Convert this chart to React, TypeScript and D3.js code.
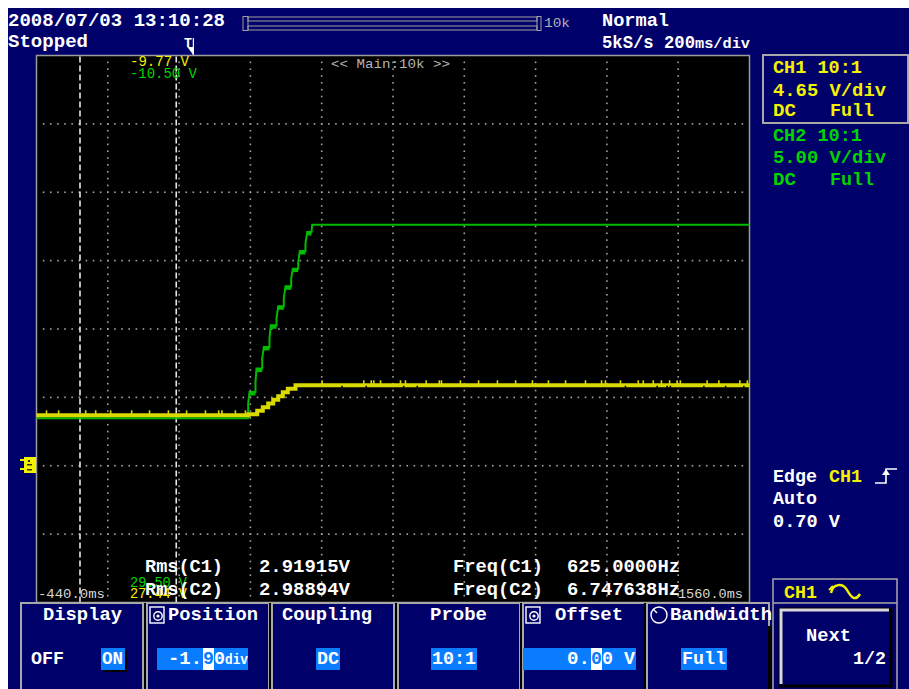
import React from "react";
import * as d3 from "d3";

const W = 909;
const H = 689;
const FONT = "'Liberation Mono', 'DejaVu Sans Mono', monospace";

// Colours of the scope display
const BG = "#00006b";
const GRID = "#a4a4a4";
const FRAME = "#a8a8a8";
const CH1_TRACE = "#d9d900";
const CH1_TEXT = "#f2f200";
const CH2_TRACE = "#00bb00";
const CH2_TEXT = "#00d400";
const HILITE = "#0a7cff";

// Horizontal: 10 divisions of 200 ms, trigger at 0 ms
const timeStart = -440;
const timePerDiv = 200;
const hDivs = 10;
const vDivs = 8;

// CH1 (yellow) staircase: level held from each time until the next (divisions)
const ch1StepTimes = [-440, 154.7, 179.1, 194.8, 209.9, 224.0, 238.0, 250.9, 264.9, 286.5, 1560];
const ch1StepLevels = [-1.262, -1.247, -1.196, -1.145, -1.091, -1.035, -0.984, -0.925, -0.874, -0.823, -0.823];

// CH1 single-sample glitches on the flat parts (ms)
const ch1SpikeUpTimes = [
  -412, -378, -302, -274, -232, -173, -123, -70, -19, 34, 71, 80, 118, 146,
  361, 478, 499, 506, 525, 581, 595, 653, 690, 696, 749, 800, 853, 904, 951, 996,
  1044, 1100, 1145, 1156, 1198, 1248, 1262, 1290, 1313, 1336, 1357, 1366, 1441,
  1474, 1533, 1554,
];
const ch1SpikeDownTimes = [417, 485, 590, 628, 1212, 1301, 1329, 1338, 1432, 1493, 1544];

// CH2 (green) trace vertices (ms, divisions)
const ch2Times = [
  -440, 153.8, 153.8, 157.5, 174.3, 174.3, 177.1, 193.1, 193.1, 197.6, 213.6,
  213.6, 217.2, 233.2, 233.2, 238.0, 253.7, 253.7, 258.4, 274.4, 274.4, 278.9,
  294.1, 294.1, 298.6, 314.5, 314.5, 319.3, 331.4, 333.3, 1560,
];
const ch2Levels = [
  -1.305, -1.305, -1.091, -0.921, -0.921, -0.775, -0.579, -0.579, -0.428, -0.263,
  -0.263, -0.136, 0.054, 0.054, 0.152, 0.332, 0.332, 0.444, 0.624, 0.624, 0.737,
  0.883, 0.883, 0.980, 1.140, 1.140, 1.249, 1.418, 1.418, 1.526, 1.526,
];

// Vertical cursors (ms)
const cursorTimes = [-318, -48];

// Measurement readouts
const measureNames = ["Rms(C1)", "Rms(C2)"];
const measureValues = ["2.91915V", "2.98894V"];
const freqNames = ["Freq(C1)", "Freq(C2)"];
const freqValues = ["625.0000Hz", "6.747638Hz"];

// Soft-key menu
const menuTitles = ["Display", "Position", "Coupling", "Probe", "Offset", "Bandwidth"];

const PLOT = { left: 36.5, right: 749.5, top: 55.5, bottom: 602.5 };

type TxtProps = {
  x: number;
  y: number;
  children: React.ReactNode;
  fill?: string;
  size?: number;
  w?: number;
  bold?: boolean;
};

function Txt({ x, y, children, fill = "#ffffff", size = 19, w, bold = true }: TxtProps) {
  return (
    <text
      x={x}
      y={y}
      fill={fill}
      fontFamily={FONT}
      fontSize={size}
      fontWeight={bold ? "bold" : "normal"}
      textLength={w}
      lengthAdjust={w ? "spacingAndGlyphs" : undefined}
    >
      {children}
    </text>
  );
}

export default function App() {
  const x = d3
    .scaleLinear()
    .domain([timeStart, timeStart + timePerDiv * hDivs])
    .range([PLOT.left, PLOT.right]);
  const y = d3.scaleLinear().domain([-vDivs / 2, vDivs / 2]).range([PLOT.bottom, PLOT.top]);

  // dotted graticule: a dot every tenth of a division along each grid line
  const dots: React.ReactNode[] = [];
  d3.range(1, hDivs).forEach((i) => {
    const gx = x(timeStart + i * timePerDiv);
    d3.range(1, vDivs * 10).forEach((k) => {
      dots.push(
        <rect key={`v${i}-${k}`} x={gx - 0.8} y={y(-vDivs / 2 + k / 10) - 0.8} width={1.6} height={1.6} fill={GRID} />
      );
    });
  });
  d3.range(1, vDivs).forEach((j) => {
    const gy = y(-vDivs / 2 + j);
    d3.range(1, hDivs * 10).forEach((k) => {
      dots.push(
        <rect key={`h${j}-${k}`} x={x(timeStart + (k * timePerDiv) / 10) - 0.8} y={gy - 0.8} width={1.6} height={1.6} fill={GRID} />
      );
    });
  });

  const ch1Line = d3
    .line<number>()
    .x((_, i) => x(ch1StepTimes[i]))
    .y((_, i) => y(ch1StepLevels[i]))
    .curve(d3.curveStepAfter);
  const ch2Line = d3
    .line<number>()
    .x((_, i) => x(ch2Times[i]))
    .y((_, i) => y(ch2Levels[i]));

  // plateaus of the CH2 ramp are drawn heavier
  const ch2Plateaus: [number, number, number][] = [];
  for (let i = 1; i < ch2Times.length; i++) {
    if (ch2Levels[i] === ch2Levels[i - 1] && ch2Times[i - 1] > 150 && ch2Times[i] < 340) {
      ch2Plateaus.push([ch2Times[i - 1], ch2Times[i], ch2Levels[i]]);
    }
  }

  const ch1LevelAt = (t: number) => {
    const idx = d3.bisectRight(ch1StepTimes, t) - 1;
    return ch1StepLevels[Math.max(0, Math.min(idx, ch1StepLevels.length - 1))];
  };

  const menuXs = [21, 147, 272, 398, 523, 647];
  const menuTitleX = [43, 168, 282, 430, 555, 670];
  const menuTitleW = [79, 90, 90, 57, 68, 102];

  return (
    <div style={{ position: "fixed", left: 0, top: 0 }}>
      <svg width={W} height={H} viewBox={`0 0 ${W} ${H}`} style={{ display: "block" }}>
        <rect x={0} y={0} width={W} height={H} fill="#ffffff" />
        <rect x={8} y={8} width={W - 8} height={H - 8} fill={BG} />

        {/* header */}
        <Txt x={8} y={26} w={217}>2008/07/03 13:10:28</Txt>
        <Txt x={8} y={47} w={80}>Stopped</Txt>
        <g fill="none" stroke="#a0a0a0" strokeWidth={1}>
          <rect x={243} y={16.5} width={5} height={14} />
          <rect x={537} y={16.5} width={4} height={14} />
          <rect x={248} y={17} width={289} height={4} />
          <rect x={248} y={26} width={289} height={4} />
        </g>
        <Txt x={544} y={27} size={12} w={26} bold={false} fill="#b0b0b0">10k</Txt>
        <Txt x={602} y={26} w={67}>Normal</Txt>
        <Txt x={602} y={48} w={93}>5kS/s 200</Txt>
        <Txt x={695} y={48} size={14} w={55}>ms/div</Txt>

        {/* trigger position marker */}
        <Txt x={184} y={47} size={13} w={8}>T</Txt>
        <line x1={x(0)} y1={38} x2={x(0)} y2={55} stroke="#ffffff" strokeWidth={1.2} />
        <polygon points={`${x(0) - 6},47 ${x(0)},47 ${x(0)},55`} fill="#ffffff" />

        {/* screen */}
        <rect x={PLOT.left} y={PLOT.top} width={PLOT.right - PLOT.left} height={PLOT.bottom - PLOT.top} fill="#000000" stroke="#9c9c9c" strokeWidth={1.5} />
        <g>{dots}</g>

        {/* cursors */}
        {cursorTimes.map((t) => (
          <line key={t} x1={x(t)} y1={PLOT.top + 1} x2={x(t)} y2={PLOT.bottom} stroke="#e6e6e6" strokeWidth={1.6} strokeDasharray="6 3" />
        ))}

        {/* traces */}
        <path d={ch2Line(ch2Times) || ""} fill="none" stroke={CH2_TRACE} strokeWidth={2} />
        {ch2Plateaus.map(([t0, t1, v], i) => (
          <line key={i} x1={x(t0)} x2={x(t1)} y1={y(v) + 1.5} y2={y(v) + 1.5} stroke={CH2_TRACE} strokeWidth={4} />
        ))}
        <path d={ch1Line(ch1StepTimes) || ""} fill="none" stroke={CH1_TRACE} strokeWidth={4} />
        {ch1SpikeUpTimes.map((t) => (
          <rect key={`u${t}`} x={x(t) - 0.8} y={y(ch1LevelAt(t)) - 5} width={1.6} height={4} fill={CH1_TRACE} />
        ))}
        {ch1SpikeDownTimes.map((t) => (
          <rect key={`d${t}`} x={x(t) - 0.8} y={y(ch1LevelAt(t)) + 0.5} width={1.6} height={2} fill="#000000" />
        ))}

        {/* on-screen labels */}
        <Txt x={331} y={68} size={13} w={119} bold={false} fill="#b4b4b4">{"<< Main:10k >>"}</Txt>
        <Txt x={130} y={66} size={14} w={59} bold={false} fill={CH1_TEXT}>-9.77 V</Txt>
        <Txt x={130} y={78} size={14} w={67} bold={false} fill={CH2_TEXT}>-10.50 V</Txt>
        <Txt x={130} y={587} size={14} w={57} bold={false} fill={CH2_TEXT}>29.50 V</Txt>
        <Txt x={130} y={598} size={14} w={57} bold={false} fill={CH1_TEXT}>27.44 V</Txt>
        <Txt x={38} y={598} size={13} w={67} bold={false} fill="#d8d8d8">-440.0ms</Txt>
        <Txt x={678} y={598} size={13} w={65} bold={false} fill="#d8d8d8">1560.0ms</Txt>

        {measureNames.map((m, i) => (
          <g key={m}>
            <Txt x={145} y={572 + i * 23} w={78}>{m}</Txt>
            <Txt x={259} y={572 + i * 23} w={91}>{measureValues[i]}</Txt>
            <Txt x={453} y={572 + i * 23} w={90}>{freqNames[i]}</Txt>
            <Txt x={567} y={572 + i * 23} w={113}>{freqValues[i]}</Txt>
          </g>
        ))}

        {/* CH1 ground marker */}
        <g>
          <rect x={24} y={457} width={12} height={16} fill={CH1_TEXT} />
          <rect x={20} y={459} width={5} height={2} fill={CH1_TEXT} />
          <rect x={20} y={468} width={5} height={2} fill={CH1_TEXT} />
          <rect x={28} y={460} width={2} height={2} fill="#333300" />
          <rect x={27} y={464} width={5} height={1.5} fill="#333300" />
          <rect x={27} y={469} width={5} height={1.5} fill="#333300" />
        </g>

        {/* channel settings */}
        <rect x={763} y={55} width={145} height={68} fill="none" stroke={FRAME} strokeWidth={2} />
        <Txt x={773} y={73} w={89} fill={CH1_TEXT}>CH1 10:1</Txt>
        <Txt x={773} y={96} w={113} fill={CH1_TEXT}>4.65 V/div</Txt>
        <Txt x={773} y={116} w={23} fill={CH1_TEXT}>DC</Txt>
        <Txt x={830} y={116} w={44} fill={CH1_TEXT}>Full</Txt>
        <Txt x={773} y={141} w={89} fill={CH2_TEXT}>CH2 10:1</Txt>
        <Txt x={773} y={163} w={113} fill={CH2_TEXT}>5.00 V/div</Txt>
        <Txt x={773} y={185} w={23} fill={CH2_TEXT}>DC</Txt>
        <Txt x={830} y={185} w={44} fill={CH2_TEXT}>Full</Txt>

        {/* trigger settings */}
        <Txt x={773} y={482} w={44}>Edge</Txt>
        <Txt x={829} y={482} w={33} fill={CH1_TEXT}>CH1</Txt>
        <path d="M875 483 H886 V469 H897" fill="none" stroke="#ffffff" strokeWidth={1.6} />
        <polygon points="882,475 886,469 890,475" fill="#ffffff" />
        <Txt x={773} y={504} w={44}>Auto</Txt>
        <Txt x={773} y={527} w={67}>0.70 V</Txt>

        {/* channel menu frame */}
        <rect x={773} y={579} width={124} height={130} fill="none" stroke={FRAME} strokeWidth={1.5} />
        <line x1={773} y1={603} x2={897} y2={603} stroke={FRAME} strokeWidth={1.5} />
        <Txt x={784} y={598} w={33} fill={CH1_TEXT}>CH1</Txt>
        <path d="M831 593 C833 583, 843 583, 847 590 S855 602, 860 594" fill="none" stroke={CH1_TEXT} strokeWidth={2.5} />
        <path d="M829 590 L833 586" stroke={CH1_TEXT} strokeWidth={2} />

        {/* soft keys */}
        {menuXs.map((mx) => (
          <rect key={mx} x={mx} y={603} width={122} height={100} fill="none" stroke={FRAME} strokeWidth={2} />
        ))}
        {menuXs.slice(1).map((mx) => (
          <line key={`s${mx}`} x1={mx - 2} y1={603} x2={mx - 2} y2={H} stroke="#000000" strokeWidth={2} />
        ))}
        {menuTitles.map((t, i) => (
          <Txt key={t} x={menuTitleX[i]} y={620} w={menuTitleW[i]}>{t}</Txt>
        ))}
        {/* knob icons */}
        <g fill="none" stroke="#ffffff" strokeWidth={1.4}>
          <rect x={150} y={607} width={14} height={16} />
          <circle cx={158} cy={616} r={4.2} />
          <rect x={526} y={607} width={14} height={16} />
          <circle cx={534} cy={616} r={4.2} />
          <circle cx={659} cy={615} r={8} />
        </g>
        <circle cx={158} cy={616} r={1.6} fill="#ffffff" />
        <circle cx={534} cy={616} r={1.6} fill="#ffffff" />
        <line x1={653} y1={609} x2={657} y2={613} stroke="#ffffff" strokeWidth={1.4} />

        {/* Display */}
        <Txt x={31} y={664} w={33}>OFF</Txt>
        <rect x={103} y={650} width={24} height={22} fill="#000000" />
        <rect x={101} y={648} width={24} height={22} fill={HILITE} />
        <Txt x={102} y={664} w={21}>ON</Txt>

        {/* Position */}
        <rect x={157} y={648} width={91} height={22} fill={HILITE} />
        <Txt x={168} y={664} w={34}>-1.</Txt>
        <rect x={203} y={648} width={11} height={22} fill="#ffffff" />
        <Txt x={203} y={664} w={11} fill={HILITE}>9</Txt>
        <Txt x={214} y={664} w={11}>0</Txt>
        <Txt x={225} y={664} size={14} w={23}>div</Txt>

        {/* Coupling */}
        <rect x={316} y={648} width={24} height={22} fill={HILITE} />
        <Txt x={317} y={664} w={22}>DC</Txt>

        {/* Probe */}
        <rect x={431} y={648} width={46} height={22} fill={HILITE} />
        <Txt x={432} y={664} w={44}>10:1</Txt>

        {/* Offset */}
        <rect x={523} y={648} width={113} height={22} fill={HILITE} />
        <Txt x={567} y={664} w={23}>0.</Txt>
        <rect x={591} y={648} width={11} height={22} fill="#ffffff" />
        <Txt x={591} y={664} w={11} fill={HILITE}>0</Txt>
        <Txt x={602} y={664} w={33}>0 V</Txt>

        {/* Bandwidth */}
        <rect x={768} y={626} width={4} height={63} fill="#000000" />
        <rect x={681} y={648} width={46} height={22} fill={HILITE} />
        <Txt x={682} y={664} w={44}>Full</Txt>

        {/* Next button */}
        <rect x={780} y={609} width={111} height={77} fill="none" stroke="#000000" strokeWidth={3} />
        <path d="M781 684 V610 H889" fill="none" stroke="#d8d8d8" strokeWidth={3} />
        <Txt x={806} y={641} w={45}>Next</Txt>
        <Txt x={853} y={664} w={33}>1/2</Txt>
      </svg>
    </div>
  );
}
